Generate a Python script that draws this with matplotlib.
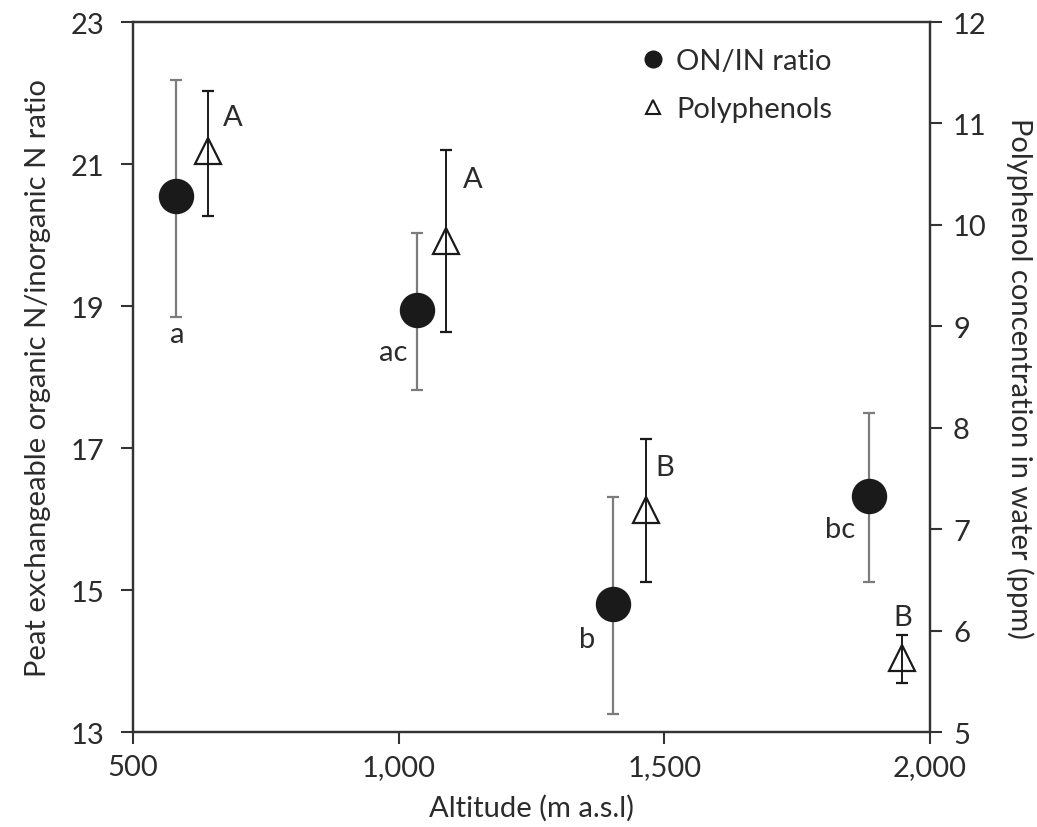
import matplotlib.pyplot as plt
import numpy as np
from matplotlib.lines import Line2D
from matplotlib.ticker import FuncFormatter

plt.rcParams['font.family'] = ['Lato', 'DejaVu Sans']

# ON/IN ratio (left axis)
alt_ratio = np.array([581, 1034, 1404, 1885])
ratio = np.array([20.55, 18.95, 14.81, 16.32])
ratio_hi = np.array([22.18, 20.03, 16.31, 17.49])
ratio_lo = np.array([18.85, 17.82, 13.26, 15.11])
ratio_groups = ['a', 'ac', 'b', 'bc']

# polyphenols (right axis)
alt_poly = np.array([641, 1089, 1465, 1947])
poly = np.array([10.73, 9.84, 7.19, 5.73])
poly_hi = np.array([11.32, 10.74, 7.89, 5.96])
poly_lo = np.array([10.09, 8.94, 6.48, 5.48])
poly_groups = ['A', 'A', 'B', 'B']

# letter offsets in pixels from the marker
ratio_off = [(1, -138), (-24, -42), (-26, -35), (-29, -33)]
poly_off = [(25, 34), (27, 62), (19, 43), (1, 41)]

txt = '#2b2b2b'
fs = 21
fig = plt.figure(figsize=(10.37, 8.28), dpi=100)
ax = fig.add_axes([0.1283, 0.1147, 0.7685, 0.8575])
ax2 = ax.twinx()

ax.errorbar(alt_ratio, ratio, yerr=[ratio - ratio_lo, ratio_hi - ratio],
            fmt='o', ms=24.5, color='#1a1a1a', ecolor='#7c7c7c', elinewidth=1.6,
            capsize=4.5, capthick=1.6, zorder=3)
ax2.errorbar(alt_poly, poly, yerr=[poly - poly_lo, poly_hi - poly],
             fmt='^', ms=19, mfc='none', mec='#1a1a1a', mew=1.6, color='#1a1a1a',
             ecolor='#1a1a1a', elinewidth=1.4, capsize=4.5, capthick=1.4, zorder=3)

for x, y, g, o in zip(alt_ratio, ratio, ratio_groups, ratio_off):
    ax.annotate(g, (x, y), xytext=o, textcoords='offset pixels', ha='center',
                va='center', fontsize=fs, color=txt)
for x, y, g, o in zip(alt_poly, poly, poly_groups, poly_off):
    ax2.annotate(g, (x, y), xytext=o, textcoords='offset pixels', ha='center',
                 va='center', fontsize=fs, color=txt)

ax.set_xlim(500, 2000)
ax.set_ylim(13, 23)
ax2.set_ylim(5, 12)
ax.set_xticks([500, 1000, 1500, 2000])
ax.set_yticks(np.arange(13, 24, 2))
ax2.set_yticks(np.arange(5, 13, 1))
ax.xaxis.set_major_formatter(FuncFormatter(lambda v, p: f'{v:,.0f}'))

tk = dict(direction='out', length=8.6, width=1.5, colors='#333333',
          labelsize=fs, labelcolor=txt)
ax.tick_params(axis='y', pad=12, **tk)
ax.tick_params(axis='x', pad=7, **tk)
ax2.tick_params(axis='y', pad=8, **tk)
for a in (ax, ax2):
    for s in a.spines.values():
        s.set_linewidth(1.6)
        s.set_color('#333333')

ax.set_xlabel('Altitude (m a.s.l)', fontsize=fs, color=txt, labelpad=10)
ax.set_ylabel('Peat exchangeable organic N/inorganic N ratio', fontsize=fs,
              color=txt, labelpad=14)
ax2.set_ylabel('Polyphenol concentration in water (ppm)', fontsize=fs,
               color=txt, rotation=270, va='bottom', labelpad=14)

handles = [Line2D([], [], ls='none', marker='o', ms=12, color='#1a1a1a'),
           Line2D([], [], ls='none', marker='^', ms=10, mfc='none',
                  mec='#1a1a1a', mew=1.5)]
ax.legend(handles, ['ON/IN ratio', 'Polyphenols'], loc='upper left',
          bbox_to_anchor=(0.605, 1.0), frameon=False, fontsize=fs,
          handlelength=0.8, handletextpad=0.4, labelspacing=0.75,
          labelcolor=txt)

fig.savefig('out.png', dpi=100)
